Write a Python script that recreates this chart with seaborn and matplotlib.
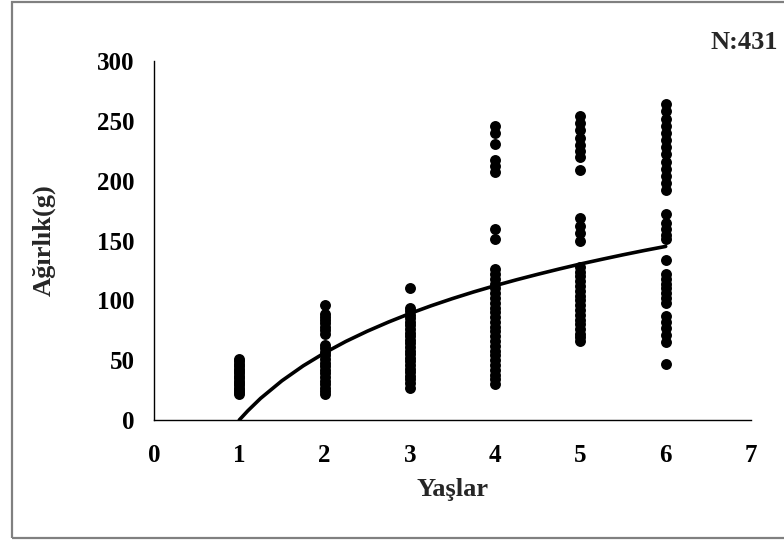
import matplotlib
matplotlib.use("Agg")
import matplotlib.pyplot as plt
import seaborn as sns
import pandas as pd
from matplotlib.patches import Rectangle

# weights (g) read per age group
age1 = [51, 49, 47, 45, 43, 41, 39, 37, 35, 33, 31, 29, 27, 25, 23, 22]
age2 = [96, 89, 86, 84, 81, 78, 75, 72, 63, 60, 57, 54, 51, 48, 45, 42,
        39, 36, 33, 30, 27, 24, 22]
age3 = [110, 94, 91, 88, 85, 82, 79, 76, 73, 70, 67, 64, 61, 58, 55, 52,
        49, 46, 43, 40, 37, 34, 31, 27]
age4 = [246, 240, 231, 217, 212, 207, 160, 151, 126, 122, 118, 114, 110,
        106, 102, 98, 94, 90, 86, 82, 78, 74, 70, 66, 62, 58, 54, 50, 46,
        42, 38, 34, 30]
age5 = [254, 248, 242, 236, 230, 225, 220, 209, 169, 162, 156, 150, 128,
        124, 120, 116, 112, 108, 104, 100, 96, 92, 88, 84, 80, 76, 72, 69, 66]
age6 = [264, 258, 252, 246, 240, 234, 228, 222, 216, 210, 204, 198, 192,
        172, 165, 160, 155, 151, 134, 122, 118, 114, 110, 106, 102, 98, 87,
        82, 77, 71, 65, 47]

# trend line
curve_x = [1, 1.1, 1.25, 1.5, 1.75, 2, 2.25, 2.5, 2.75, 3, 3.25, 3.5, 3.75,
           4, 4.25, 4.5, 4.75, 5, 5.25, 5.5, 5.75, 6]
curve_y = [0, 7.7, 18.1, 32.8, 45.3, 56.1, 65.7, 74.2, 81.9, 89.0, 95.5,
           101.5, 107.1, 112.3, 117.2, 121.8, 126.2, 130.4, 134.3, 138.1,
           141.7, 145.1]

groups = [age1, age2, age3, age4, age5, age6]
df = pd.DataFrame({
    "Yaş": [i + 1 for i, g in enumerate(groups) for _ in g],
    "Ağırlık": [v for g in groups for v in g],
})
trend = pd.DataFrame({"x": curve_x, "y": curve_y})

sns.set_theme(style="white")
plt.rcParams["font.family"] = ["Liberation Serif", "DejaVu Serif"]
plt.rcParams["font.weight"] = "bold"

fig = plt.figure(figsize=(7.84, 5.43), dpi=100)
ax = fig.add_axes([0.1964, 0.2265, 0.7615, 0.661])

sns.scatterplot(data=df, x="Yaş", y="Ağırlık", ax=ax, color="black",
                s=62, edgecolor="black", linewidth=0, zorder=3)
sns.lineplot(data=trend, x="x", y="y", ax=ax, color="black", linewidth=2.6,
             zorder=4)

ax.set_xlim(0, 7)
ax.set_ylim(0, 300)
ax.set_xticks(range(0, 8))
ax.set_yticks(range(0, 301, 50))
ax.tick_params(axis="both", direction="out", length=5, width=1,
               color="black", labelsize=18, labelcolor="black")
ax.tick_params(axis="x", pad=12)
ax.tick_params(axis="y", pad=9)
for lab in ax.get_xticklabels() + ax.get_yticklabels():
    lab.set_fontweight("bold")

for side in ["top", "right"]:
    ax.spines[side].set_visible(False)
for side in ["left", "bottom"]:
    ax.spines[side].set_color("black")
    ax.spines[side].set_linewidth(1)

ax.set_xlabel("Yaşlar", fontsize=19, fontweight="bold", labelpad=8)
ax.set_ylabel("Ağırlık(g)", fontsize=19, fontweight="bold", labelpad=30)

fig.text(0.949, 0.922, "N:431", fontsize=19, fontweight="bold",
         ha="center", va="center")

fig.patches.append(Rectangle((12 / 784, 1 - 538 / 543), 1.0, 536 / 543,
                             transform=fig.transFigure, fill=False,
                             edgecolor="#808080", linewidth=1.6))

fig.savefig("out.png", dpi=100)
